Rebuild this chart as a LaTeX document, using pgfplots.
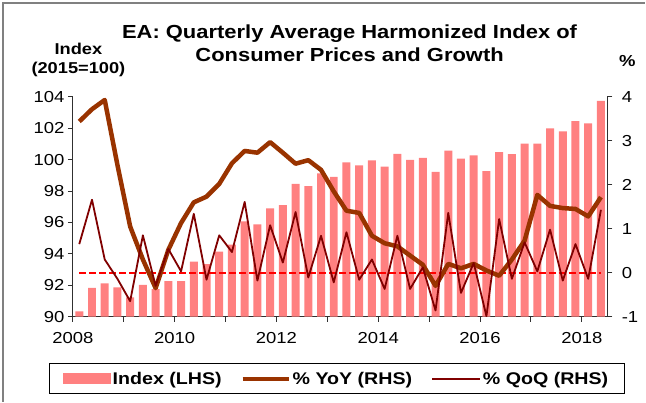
\documentclass[border=0pt]{standalone}
\usepackage{fontspec}
\setmainfont{Liberation Sans}[FakeStretch=1.16]
\usepackage{pgfplots}
\pgfplotsset{compat=1.18}
\usepackage{pgfplotstable}
\definecolor{barc}{HTML}{FF8080}
\definecolor{yoyc}{HTML}{993300}
\definecolor{qoqc}{HTML}{800000}
\definecolor{axc}{HTML}{303030}
\pgfplotstableread{
x idx yoy qoq
2008.125 90.34 3.44 0.65
2008.375 91.83 3.72 1.66
2008.625 92.12 3.93 0.30
2008.875 91.87 2.45 -0.14
2009.125 91.23 1.05 -0.65
2009.375 92.02 0.30 0.85
2009.625 91.76 -0.35 -0.30
2009.875 92.27 0.52 0.54
2010.125 92.27 1.13 0.03
2010.375 93.50 1.60 1.34
2010.625 93.35 1.73 -0.16
2010.875 94.14 2.02 0.85
2011.125 94.58 2.49 0.47
2011.375 96.07 2.77 1.61
2011.625 95.88 2.73 -0.18
2011.875 96.89 2.97 1.08
2012.125 97.11 2.73 0.23
2012.375 98.45 2.48 1.38
2012.625 98.32 2.56 -0.11
2012.875 99.12 2.34 0.84
2013.125 98.91 1.85 -0.22
2013.375 99.82 1.41 0.92
2013.625 99.63 1.36 -0.16
2013.875 99.95 0.84 0.30
2014.125 99.55 0.67 -0.37
2014.375 100.37 0.60 0.84
2014.625 99.99 0.39 -0.37
2014.875 100.12 0.18 0.12
2015.125 99.23 -0.30 -0.86
2015.375 100.57 0.20 1.36
2015.625 100.06 0.10 -0.46
2015.875 100.27 0.20 0.22
2016.125 99.27 0.05 -0.99
2016.375 100.48 -0.07 1.22
2016.625 100.35 0.30 -0.14
2016.875 101.03 0.73 0.69
2017.125 101.03 1.77 0.03
2017.375 102.00 1.52 0.98
2017.625 101.80 1.47 -0.18
2017.875 102.46 1.45 0.65
2018.125 102.31 1.28 -0.14
2018.375 103.75 1.72 1.43
}\data
\begin{document}
\begin{tikzpicture}
\path (0bp,0bp) rectangle (646bp,402bp);
\draw[gray, line width=1.5bp] (3bp,0bp) -- (3bp,399bp) -- (646bp,399bp);
\node[font=\fontsize{19}{23}\selectfont\bfseries, align=center] at (350bp,358.5bp) {EA: Quarterly Average Harmonized Index of\\Consumer Prices and Growth};
\node[font=\fontsize{15.8}{20}\selectfont\bfseries, align=center] at (78.5bp,342bp) {Index\\(2015=100)};
\node[font=\fontsize{16}{20}\selectfont\bfseries] at (628bp,341bp) {\%};
\begin{axis}[
  at={(73bp,85bp)}, anchor=south west, scale only axis,
  width=535bp, height=220bp,
  xmin=2008, xmax=2018.5, ymin=90, ymax=104,
  axis x line*=bottom, axis y line*=left,
  axis line style={-, axc, line width=0.9bp},
  xtick={2008,...,2018},
  xticklabels={2008,,2010,,2012,,2014,,2016,,2018},
  xticklabel style={yshift=-7bp},
  ytick={90,92,...,104},
  tick align=outside, major tick length=5bp,
  tick style={axc, line width=0.9bp},
  ticklabel style={font=\fontsize{16}{19}\selectfont},
  /pgf/number format/assume math mode=true,
  ybar, bar width=8bp,
]
\addplot[fill=barc, draw=none, bar shift=0pt] table[x=x,y=idx]{\data};
\end{axis}
\begin{axis}[
  at={(73bp,85bp)}, anchor=south west, scale only axis,
  width=535bp, height=220bp,
  xmin=2008, xmax=2018.5, ymin=-1, ymax=4,
  axis x line=none, axis y line*=right,
  axis line style={-, axc, line width=0.9bp},
  ytick={-1,0,...,4},
  yticklabel style={xshift=6bp},
  tick align=outside, major tick length=5bp,
  tick style={axc, line width=0.9bp},
  ticklabel style={font=\fontsize{16}{19}\selectfont},
  /pgf/number format/assume math mode=true,
  legend columns=3,
  legend style={at={(0.4935,-0.213)}, anchor=north, draw=black, line width=0.8bp,
    font=\fontsize{17}{20}\selectfont\bfseries, inner xsep=14bp, inner ysep=6bp,
    /tikz/every even column/.append style={column sep=17bp}},
]
\addlegendimage{legend image code/.code={\fill[barc] (0bp,-5bp) rectangle (47bp,5bp);}}
\addlegendentry{Index (LHS)}
\addplot[red, line width=2bp, dash pattern=on 7bp off 3bp, forget plot] coordinates {(2008.125,0) (2018.375,0)};
\addplot[yoyc, line width=4.5bp, line join=round, legend image code/.code={\draw[yoyc, line width=4bp] (0bp,0bp) -- (46bp,0bp);}] table[x=x,y=yoy]{\data};
\addlegendentry{\% YoY (RHS)}
\addplot[qoqc, line width=1.8bp, line join=round, legend image code/.code={\draw[qoqc, line width=1.8bp] (0bp,0bp) -- (48bp,0bp);}] table[x=x,y=qoq]{\data};
\addlegendentry{\% QoQ (RHS)}
\end{axis}
\end{tikzpicture}
\end{document}
